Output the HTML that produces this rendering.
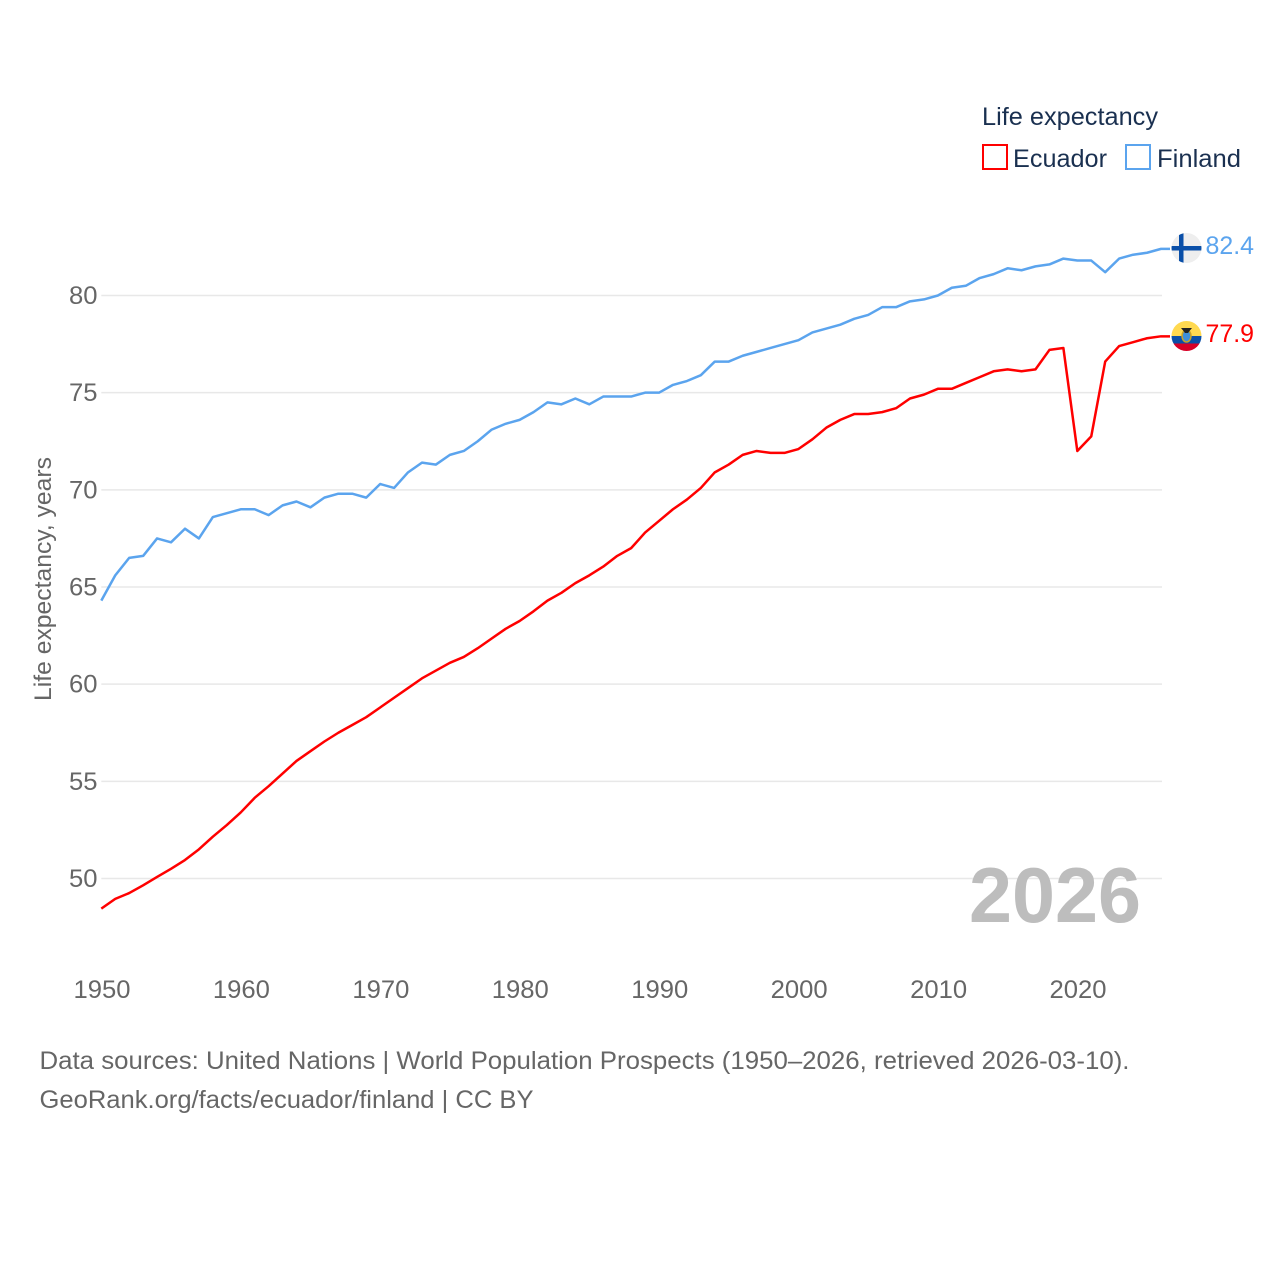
<!DOCTYPE html>
<html lang="en">
<head>
<meta charset="utf-8">
<title>Life expectancy: Ecuador vs Finland</title>
<style>
html,body{margin:0;padding:0;background:#fff;}
svg{display:block;font-family:"Liberation Sans",sans-serif;}
</style>
</head>
<body>
<svg id="chart" xmlns="http://www.w3.org/2000/svg" width="1280" height="1280" viewBox="0 0 1280 1280">
  <rect width="1280" height="1280" fill="#fff"/>
  <g id="grid"></g>
  <g id="yticks"></g>
  <g id="xticks"></g>
  <text transform="translate(51,701) rotate(-90)" font-size="24.5" fill="#666" textLength="244" lengthAdjust="spacingAndGlyphs">Life expectancy, years</text>
  <text x="969" y="922" font-size="78" font-weight="700" fill="#bdbdbd" textLength="172" lengthAdjust="spacingAndGlyphs">2026</text>
  <g id="series"></g>
  <g>
    <text x="982" y="125" font-size="25" fill="#1a3050" textLength="176" lengthAdjust="spacingAndGlyphs">Life expectancy</text>
    <g>
      <rect x="983" y="145" width="24" height="24" fill="#fff" stroke="#ff0000" stroke-width="2"/>
      <text x="1013" y="167" font-size="25" fill="#1a3050" textLength="94" lengthAdjust="spacingAndGlyphs">Ecuador</text>
    </g>
    <g>
      <rect x="1126" y="145" width="24" height="24" fill="#fff" stroke="#5ba4ee" stroke-width="2"/>
      <text x="1157" y="167" font-size="25" fill="#1a3050" textLength="84" lengthAdjust="spacingAndGlyphs">Finland</text>
    </g>
  </g>
  <defs>
    <clipPath id="flag-clip-fi"><circle cx="1186.5" cy="248" r="15"/></clipPath>
    <clipPath id="flag-clip-ec"><circle cx="1186.5" cy="336" r="15"/></clipPath>
  </defs>
  <g clip-path="url(#flag-clip-fi)">
    <rect x="1171" y="233" width="31" height="30" fill="#eeeeee"/>
    <rect x="1171" y="246" width="31" height="4.5" fill="#0a4fa8"/>
    <rect x="1179" y="233" width="4.5" height="30" fill="#0a4fa8"/>
  </g>
  <g clip-path="url(#flag-clip-ec)">
    <rect x="1171" y="321" width="31" height="15" fill="#ffd950"/>
    <rect x="1171" y="336" width="31" height="7.5" fill="#0a4fa8"/>
    <rect x="1171" y="343.5" width="31" height="7.5" fill="#d80027"/>
    <ellipse cx="1186.5" cy="336" rx="4.5" ry="6" fill="#3f8fd8" stroke="#c9a227" stroke-width="1.5"/>
    <polygon points="1181,328 1192,328 1189.5,331 1188,333 1185,333 1183.5,331" fill="#222"/>
  </g>
  <text id="label-fi" x="1205.5" y="254" font-size="25" fill="#5ba4ee" textLength="48.5" lengthAdjust="spacingAndGlyphs"></text>
  <text id="label-ec" x="1205.5" y="342" font-size="25" fill="#ff0000" textLength="48.5" lengthAdjust="spacingAndGlyphs"></text>
  <text x="39.5" y="1069" font-size="25" fill="#666" textLength="1090" lengthAdjust="spacingAndGlyphs">Data sources: United Nations | World Population Prospects (1950–2026, retrieved 2026-03-10).</text>
  <text x="39.5" y="1108" font-size="25" fill="#666" textLength="494" lengthAdjust="spacingAndGlyphs">GeoRank.org/facts/ecuador/finland | CC BY</text>
</svg>
<script>
const startYear = 1950;
const yTickValues = [50, 55, 60, 65, 70, 75, 80];
const xTickYears = [1950, 1960, 1970, 1980, 1990, 2000, 2010, 2020];
const ecuadorValues = [
  48.45, 48.95, 49.25, 49.65, 50.08, 50.5, 50.95, 51.5, 52.15, 52.75,
  53.4, 54.15, 54.75, 55.4, 56.05, 56.55, 57.05, 57.5, 57.9, 58.3,
  58.8, 59.3, 59.8, 60.3, 60.7, 61.1, 61.4, 61.85, 62.35, 62.85,
  63.25, 63.75, 64.3, 64.7, 65.2, 65.6, 66.05, 66.6, 67.0, 67.8,
  68.4, 69.0, 69.5, 70.1, 70.9, 71.3, 71.8, 72.0, 71.9, 71.9,
  72.1, 72.6, 73.2, 73.6, 73.9, 73.9, 74.0, 74.2, 74.7, 74.9,
  75.2, 75.2, 75.5, 75.8, 76.1, 76.2, 76.1, 76.2, 77.2, 77.3,
  72.0, 72.75, 76.6, 77.4, 77.6, 77.8, 77.9
];
const finlandValues = [
  64.3, 65.6, 66.5, 66.6, 67.5, 67.3, 68.0, 67.5, 68.6, 68.8,
  69.0, 69.0, 68.7, 69.2, 69.4, 69.1, 69.6, 69.8, 69.8, 69.6,
  70.3, 70.1, 70.9, 71.4, 71.3, 71.8, 72.0, 72.5, 73.1, 73.4,
  73.6, 74.0, 74.5, 74.4, 74.7, 74.4, 74.8, 74.8, 74.8, 75.0,
  75.0, 75.4, 75.6, 75.9, 76.6, 76.6, 76.9, 77.1, 77.3, 77.5,
  77.7, 78.1, 78.3, 78.5, 78.8, 79.0, 79.4, 79.4, 79.7, 79.8,
  80.0, 80.4, 80.5, 80.9, 81.1, 81.4, 81.3, 81.5, 81.6, 81.9,
  81.8, 81.8, 81.2, 81.9, 82.1, 82.2, 82.4
];

const NS = 'http://www.w3.org/2000/svg';
const xScale = year => 101.3 + (year - 1950) * 13.943;
const yScale = value => 878.5 - (value - 50) * 19.433;

const gridGroup = document.getElementById('grid');
const yTickGroup = document.getElementById('yticks');
yTickValues.forEach(v => {
  const line = document.createElementNS(NS, 'line');
  
  
  line.setAttribute('x1', xScale(1950));
  line.setAttribute('x2', 1162);
  line.setAttribute('y1', yScale(v));
  line.setAttribute('y2', yScale(v));
  line.setAttribute('stroke', '#e8e8e8');
  line.setAttribute('stroke-width', '1.5');
  gridGroup.appendChild(line);
  const label = document.createElementNS(NS, 'text');
  
  
  label.setAttribute('x', 97.5);
  label.setAttribute('y', yScale(v) + 8.5);
  label.setAttribute('text-anchor', 'end');
  label.setAttribute('font-size', '25');
  label.setAttribute('fill', '#666');
  label.setAttribute('textLength', '28.5');
  label.setAttribute('lengthAdjust', 'spacingAndGlyphs');
  label.textContent = v;
  yTickGroup.appendChild(label);
});

const xTickGroup = document.getElementById('xticks');
xTickYears.forEach(yr => {
  const label = document.createElementNS(NS, 'text');
  
  
  label.setAttribute('x', xScale(yr) + 0.7);
  label.setAttribute('y', 998);
  label.setAttribute('text-anchor', 'middle');
  label.setAttribute('font-size', '25');
  label.setAttribute('fill', '#666');
  label.setAttribute('textLength', '57');
  label.setAttribute('lengthAdjust', 'spacingAndGlyphs');
  label.textContent = yr;
  xTickGroup.appendChild(label);
});

const seriesGroup = document.getElementById('series');
function drawSeries(values, colour, name) {
  const pts = values.map((v, i) => xScale(startYear + i).toFixed(2) + ',' + yScale(v).toFixed(2));
  const last = values[values.length - 1];
  pts.push('1170,' + yScale(last).toFixed(2));
  const path = document.createElementNS(NS, 'polyline');
  
  
  path.setAttribute('points', pts.join(' '));
  path.setAttribute('fill', 'none');
  path.setAttribute('stroke', colour);
  path.setAttribute('stroke-width', '2.5');
  path.setAttribute('stroke-linejoin', 'round');
  seriesGroup.appendChild(path);
}
drawSeries(finlandValues, '#5ba4ee', 'finland-line');
drawSeries(ecuadorValues, '#ff0000', 'ecuador-line');

document.getElementById('label-fi').textContent = finlandValues[finlandValues.length - 1].toFixed(1);
document.getElementById('label-ec').textContent = ecuadorValues[ecuadorValues.length - 1].toFixed(1);
</script>
</body>
</html>
